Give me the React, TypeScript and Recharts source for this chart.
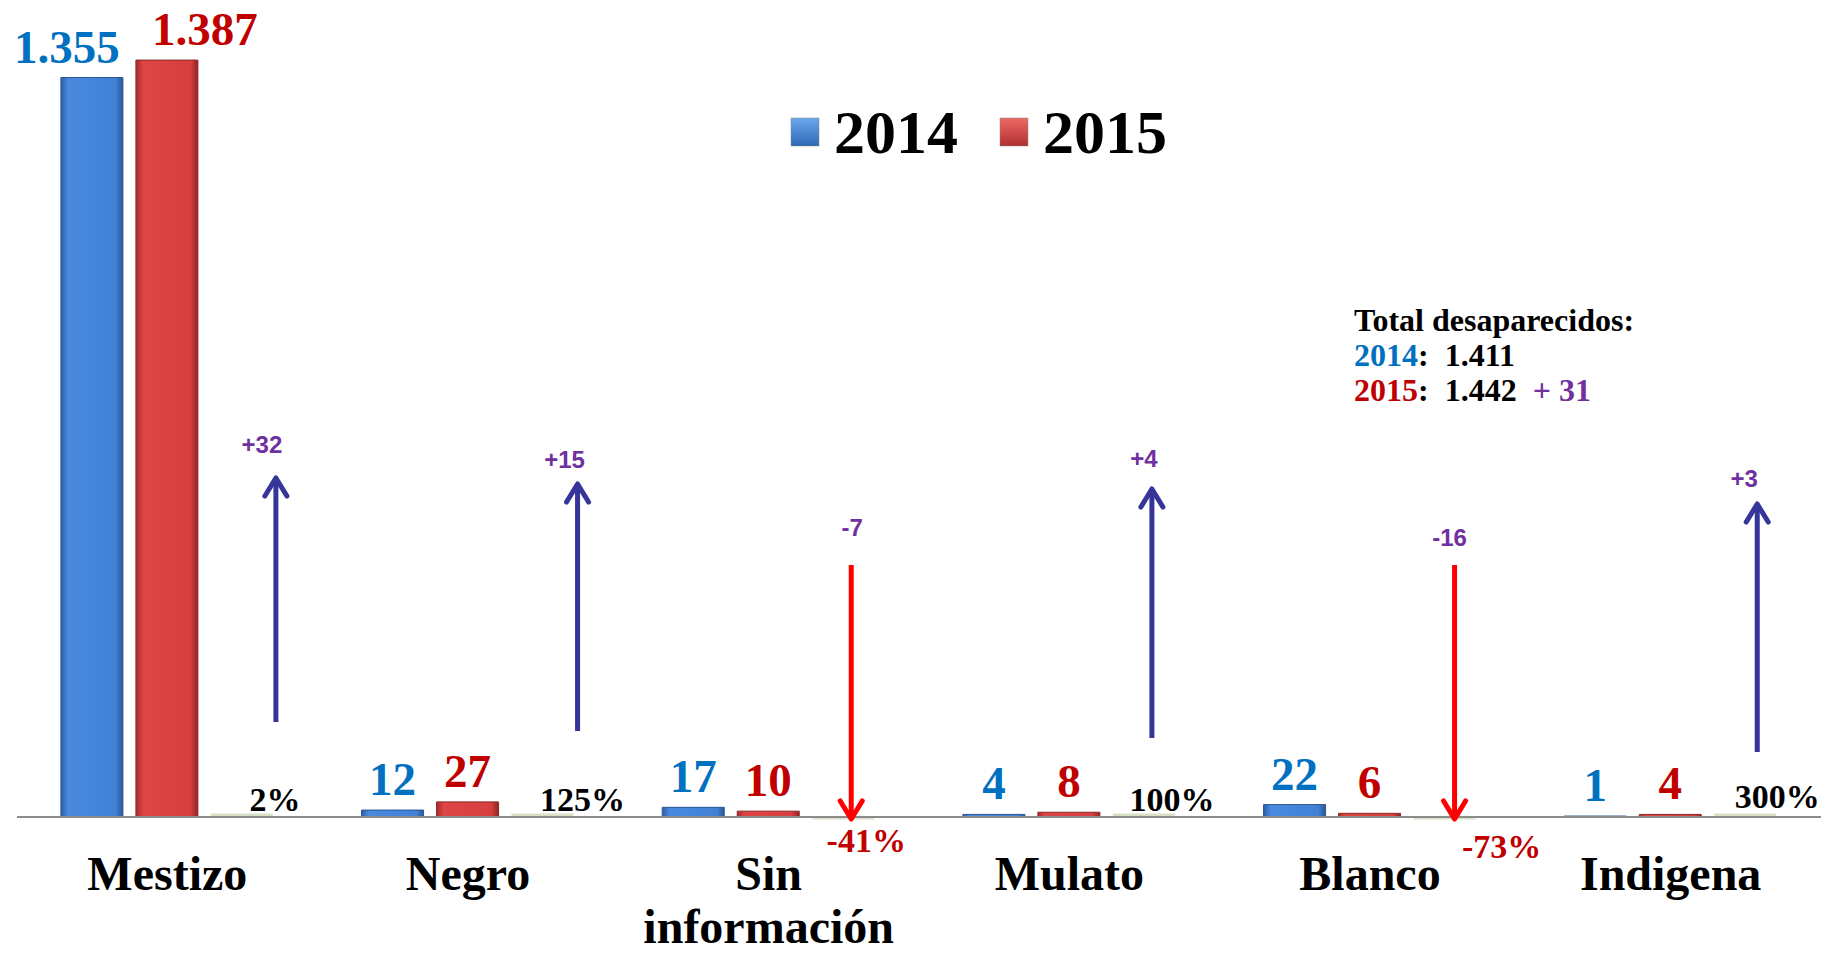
import React from 'react'
import { BarChart, Bar, XAxis, YAxis, LabelList, Legend } from 'recharts'

const categories = ['Mestizo', 'Negro', 'Sin información', 'Mulato', 'Blanco', 'Indigena']
const values2014 = [1355, 12, 17, 4, 22, 1]
const values2015 = [1387, 27, 10, 8, 6, 4]
const pctChange = [2, 125, -41, 100, -73, 300]

const BLUE_TXT = '#0070c0'
const RED_TXT = '#c00000'
const PURPLE = '#7030a0'
const NAVY = '#35359a'
const SERIF = "'Liberation Serif', 'Times New Roman', serif"
const SANS = "'Liberation Sans', Arial, sans-serif"

// annotation layout per category (arrow offset/ends, label positions)
const notes = [
  { dx: 34, tail: 722, head: 478, tdx: 20, ty: 453, pdx: 33, py: 811 },
  { dx: 35, tail: 731, head: 484, tdx: 22, ty: 468, pdx: 40, py: 811 },
  { dx: 8, tail: 565, head: 819, tdx: 9, ty: 536, pdx: 23, py: 852 },
  { dx: 8, tail: 738, head: 489, tdx: 0, ty: 467, pdx: 28, py: 811 },
  { dx: 10, tail: 565, head: 819, tdx: 5, ty: 546, pdx: 57, py: 858 },
  { dx: 12, tail: 752, head: 504, tdx: -1, ty: 487, pdx: 32, py: 808 },
]

const data = categories.map((name, i) => ({
  name,
  y2014: values2014[i],
  y2015: values2015[i],
  pct: pctChange[i] / 100,
}))

const total2014 = values2014.reduce((a, b) => a + b, 0)
const total2015 = values2015.reduce((a, b) => a + b, 0)

const fmt = (v: number) => String(v).replace(/\B(?=(\d{3})+(?!\d))/g, '.')
const signed = (v: number) => (v > 0 ? `+${v}` : `${v}`)

function makeValueLabel(color: string, firstShift: number) {
  return (props: any) => {
    const vb = props.viewBox ?? props
    const x = vb.x ?? props.x
    const w = vb.width ?? props.width
    const y = vb.y ?? props.y
    const h = vb.height ?? props.height
    const cx = x + w / 2 + (props.index === 0 ? firstShift : 0)
    const top = Math.min(y, y + h)
    return (
      <text x={cx} y={top - 15} textAnchor="middle" fill={color} fontSize={47} fontWeight="bold" fontFamily={SERIF}>
        {fmt(Number(props.value))}
      </text>
    )
  }
}

function ChangeNote(props: any) {
  const vb = props.viewBox ?? props
  const x = vb.x ?? props.x
  const w = vb.width ?? props.width
  const i = props.index
  const n = notes[i]
  const cx = x + w / 2
  const ax = cx + n.dx
  const diff = values2015[i] - values2014[i]
  const up = diff > 0
  const color = up ? NAVY : '#ff0000'
  const dir = up ? 1 : -1
  const pct = pctChange[i]
  return (
    <g>
      <line x1={ax} y1={n.tail} x2={ax} y2={n.head} stroke={color} strokeWidth={5} />
      <polyline
        points={`${ax - 11},${n.head + dir * 18} ${ax},${n.head} ${ax + 11},${n.head + dir * 18}`}
        fill="none"
        stroke={color}
        strokeWidth={5}
        strokeLinecap="round"
        strokeLinejoin="round"
      />
      <text x={cx + n.tdx} y={n.ty} textAnchor="middle" fill={PURPLE} fontSize={24} fontWeight="bold" fontFamily={SANS}>
        {signed(diff)}
      </text>
      <text
        x={cx + n.pdx}
        y={n.py}
        textAnchor="middle"
        fill={pct < 0 ? RED_TXT : '#000'}
        fontSize={34}
        fontWeight="bold"
        fontFamily={SERIF}
      >
        {`${pct}%`}
      </text>
    </g>
  )
}

function CategoryTick({ x, y, payload }: any) {
  const lines = String(payload.value).split(' ')
  return (
    <g>
      {lines.map((l, i) => (
        <text key={i} x={x} y={y + 71 + i * 53} textAnchor="middle" fill="#000" fontSize={48} fontWeight="bold" fontFamily={SERIF}>
          {l}
        </text>
      ))}
    </g>
  )
}

function LegendBox() {
  const item = (label: string, grad: string) => (
    <div style={{ display: 'flex', alignItems: 'center', marginRight: 41 }}>
      <svg width={30} height={30} style={{ marginRight: 14 }}>
        <rect x={1} y={1} width={28} height={28} fill={`url(#${grad})`} stroke="#888" strokeWidth={0.5} />
      </svg>
      <span style={{ font: `bold 62px ${SERIF}`, color: '#000', lineHeight: '62px' }}>{label}</span>
    </div>
  )
  return (
    <div style={{ display: 'flex' }}>
      {item('2014', 'gBlueL')}
      {item('2015', 'gRedL')}
    </div>
  )
}

export default function App() {
  return (
    <div style={{ position: 'absolute', left: 0, top: 0, width: 1827, height: 953, background: '#fff' }}>
      <BarChart
        width={1827}
        height={953}
        data={data}
        margin={{ top: 53, right: 6, left: 17, bottom: 0 }}
        barCategoryGap="14.6%"
        barGap={13}
      >
        <defs>
          <linearGradient id="gBlue" x1="0" y1="0" x2="1" y2="0">
            <stop offset="0%" stopColor="#2d5fa6" />
            <stop offset="12%" stopColor="#4a8ade" />
            <stop offset="88%" stopColor="#4282d6" />
            <stop offset="100%" stopColor="#2a5696" />
          </linearGradient>
          <linearGradient id="gRed" x1="0" y1="0" x2="1" y2="0">
            <stop offset="0%" stopColor="#a52c2c" />
            <stop offset="12%" stopColor="#de4644" />
            <stop offset="88%" stopColor="#d63f3e" />
            <stop offset="100%" stopColor="#932424" />
          </linearGradient>
          <linearGradient id="gBlueL" x1="0" y1="0" x2="0" y2="1">
            <stop offset="0%" stopColor="#6aa8ee" />
            <stop offset="100%" stopColor="#2f68b4" />
          </linearGradient>
          <linearGradient id="gRedL" x1="0" y1="0" x2="0" y2="1">
            <stop offset="0%" stopColor="#ee6a66" />
            <stop offset="100%" stopColor="#b02f2f" />
          </linearGradient>
        </defs>
        <XAxis
          dataKey="name"
          axisLine={{ stroke: '#8c8c8c', strokeWidth: 2 }}
          tickLine={false}
          tickSize={0}
          height={136}
          interval={0}
          tick={<CategoryTick />}
        />
        <YAxis hide domain={[0, 1400]} />
        <Legend
          layout="horizontal"
          verticalAlign="middle"
          align="center"
          content={<LegendBox />}
          wrapperStyle={{ position: 'absolute', top: 101, left: 790, width: 440 }}
        />
        <Bar dataKey="y2014" name="2014" fill="url(#gBlue)" stroke="#2a5594" strokeWidth={1} isAnimationActive={false}>
          <LabelList dataKey="y2014" content={makeValueLabel(BLUE_TXT, -25)} />
        </Bar>
        <Bar dataKey="y2015" name="2015" fill="url(#gRed)" stroke="#8e2626" strokeWidth={1} isAnimationActive={false}>
          <LabelList dataKey="y2015" content={makeValueLabel(RED_TXT, 38)} />
        </Bar>
        <Bar dataKey="pct" name="Variación" fill="#d9e0c6" minPointSize={3} isAnimationActive={false} legendType="none">
          <LabelList dataKey="pct" content={<ChangeNote />} />
        </Bar>
      </BarChart>
      <div
        style={{
          position: 'absolute',
          left: 1354,
          top: 303,
          font: `bold 32px ${SERIF}`,
          lineHeight: '35px',
          color: '#000',
          whiteSpace: 'pre',
        }}
      >
        <div>Total desaparecidos:</div>
        <div>
          <span style={{ color: BLUE_TXT }}>2014</span>:{'  '}
          {fmt(total2014)}
        </div>
        <div>
          <span style={{ color: RED_TXT }}>2015</span>:{'  '}
          {fmt(total2015)}
          {'  '}
          <span style={{ color: PURPLE }}>{`+ ${total2015 - total2014}`}</span>
        </div>
      </div>
    </div>
  )
}
